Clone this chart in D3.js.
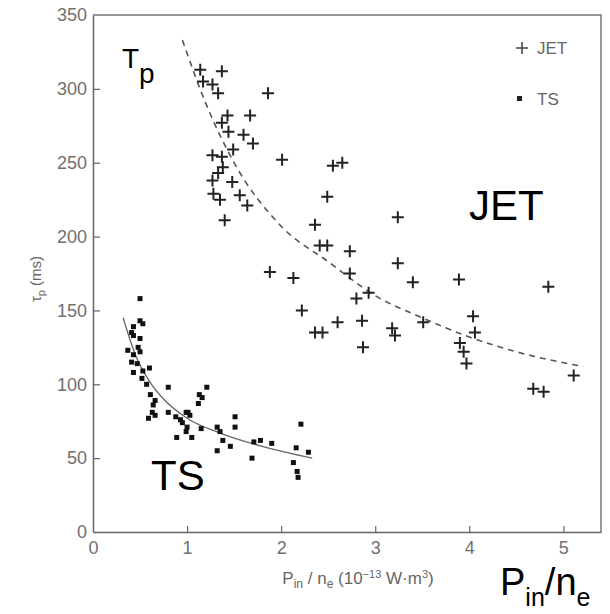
<!DOCTYPE html>
<html lang="en">
	<head>
		<title>Particle confinement time vs input power per density</title>
		<meta charset="utf-8">
		<style>
			body {
				margin: 0;
				background: #fff;
				font-family: "Liberation Sans", Arial, Helvetica, sans-serif;
			}

			.graph .axis .domain {
				fill: none;
				stroke: #666;
				stroke-width: 1.5;
			}

			.graph .axis .tick line {
				stroke: #666;
				stroke-width: 1.2;
			}

			.graph .axis .tick text {
				fill: #707070;
				font-size: 18px;
				font-family: "Liberation Sans", Arial, sans-serif;
			}
		</style>
	</head>

	<body>

		<div class="graph"></div>

		<script src="https://cdn.jsdelivr.net/npm/d3@7"></script>

		<script>

		// JET points: P_in / n_e (1e-13 W m^3), tau_p (ms)
		var jet_x = [1.14, 1.37, 1.17, 1.27, 1.33, 1.86, 1.43, 1.67, 1.37, 1.44, 1.60, 1.70, 1.49, 1.27, 1.37,
			2.01, 2.55, 2.65, 1.38, 1.33, 1.27, 1.48, 1.28, 1.56, 1.35, 1.64, 2.49, 1.40, 2.36, 2.41,
			2.49, 2.73, 1.88, 2.73, 2.13, 3.24, 3.24, 3.40, 3.89, 4.84, 2.93, 2.80, 2.22, 2.60, 2.86,
			3.51, 4.04, 2.36, 2.44, 3.18, 3.21, 4.06, 3.90, 3.94, 3.97, 2.87, 5.11, 4.68, 4.79];
		var jet_y = [313, 312, 305, 303, 297, 297, 282, 282, 277, 271, 269, 263, 259, 255, 254,
			252, 248, 250, 247, 243, 238, 237, 229, 228, 225, 221, 227, 211, 208, 194,
			194, 190, 176, 175, 172, 213, 182, 169, 171, 166, 162, 158, 150, 142, 143,
			142, 146, 135, 135, 138, 133, 135, 128, 122, 114, 125, 106, 97, 95];

		// TS points
		var ts_x = [0.50, 0.50, 0.53, 0.43, 0.41, 0.50, 0.43, 0.48, 0.37, 0.43, 0.50, 0.41, 0.47, 0.60, 0.43,
			0.53, 0.52, 0.57, 0.80, 0.61, 0.66, 0.64, 0.63, 0.80, 0.59, 0.66, 1.01, 1.13, 1.16, 1.12,
			1.21, 0.88, 0.93, 0.99, 1.03, 0.95, 1.00, 0.99, 0.89, 1.05, 1.15, 1.32, 1.35, 1.38, 1.32,
			1.46, 1.51, 1.51, 1.71, 1.78, 1.90, 1.69, 2.16, 2.13, 2.17, 2.18, 2.21, 2.29];
		var ts_y = [158, 143, 141, 139, 135, 131, 133, 125, 123, 120, 122, 115, 114, 111, 108,
			109, 104, 100, 98, 93, 89, 86, 81, 81, 77, 79, 81, 93, 91, 87,
			98, 78, 76, 81, 79, 74, 71, 68, 64, 64, 70, 71, 68, 62, 55,
			58, 78, 71, 61, 62, 60, 50, 57, 47, 41, 37, 73, 54];

		// fitted curves
		var jet_fit_x = [0.95, 1.2, 1.5, 2.0, 2.5, 3.0, 3.5, 4.0, 4.5, 5.21];
		var jet_fit_y = [333, 290, 250, 207, 183, 160, 145, 132, 122, 112];
		var ts_fit_x = [0.32, 0.45, 0.6, 0.75, 1.0, 1.35, 1.8, 2.33];
		var ts_fit_y = [145, 120, 102, 90, 77, 67, 58, 50];

		var x_ticks = [0, 1, 2, 3, 4, 5];
		var y_ticks = [0, 50, 100, 150, 200, 250, 300, 350];

		var width = 610, height = 614;

		var x = d3.scaleLinear()
			.domain([0, 5.4])
			.range([93, 601]);

		var y = d3.scaleLinear()
			.domain([0, 350])
			.range([532, 15]);

		var svg = d3.select('.graph').append('svg')
			.attr('width', width)
			.attr('height', height);

		// frame: top and right edges
		svg.append('path')
			.attr('d', 'M' + x(0) + ',' + y(350) + 'H' + x(5.4) + 'V' + y(0))
			.attr('fill', 'none')
			.attr('stroke', '#777')
			.attr('stroke-width', 1.5);

		// x axis, ticks pointing inwards
		var axis_x = svg.append('g')
			.attr('class', 'axis')
			.attr('transform', 'translate(0,' + y(0) + ')')
			.call(d3.axisBottom(x).tickValues(x_ticks).tickFormat(d3.format('d'))
				.tickSizeInner(-6).tickSizeOuter(0).tickPadding(9));

		// y axis
		var axis_y = svg.append('g')
			.attr('class', 'axis')
			.attr('transform', 'translate(' + x(0) + ',0)')
			.call(d3.axisLeft(y).tickValues(y_ticks).tickFormat(d3.format('d'))
				.tickSizeInner(-7).tickSizeOuter(0).tickPadding(6));

		axis_x.selectAll('.tick').filter(function(d) { return d === 0; }).select('line').remove();
		axis_y.selectAll('.tick').filter(function(d) { return d === 0 || d === 350; }).select('line').remove();

		// axis titles
		var xt = svg.append('text')
			.attr('x', 358)
			.attr('y', 584)
			.attr('text-anchor', 'middle')
			.style('font-size', '17px')
			.style('fill', '#666');
		xt.append('tspan').text('P');
		xt.append('tspan').attr('dy', 4).style('font-size', '12px').text('in');
		xt.append('tspan').attr('dy', -4).text(' / n');
		xt.append('tspan').attr('dy', 4).style('font-size', '12px').text('e');
		xt.append('tspan').attr('dy', -4).text(' (10');
		xt.append('tspan').attr('dy', -6).style('font-size', '11px').text('\u221213');
		xt.append('tspan').attr('dy', 6).text(' W\u00b7m');
		xt.append('tspan').attr('dy', -6).style('font-size', '11px').text('3');
		xt.append('tspan').attr('dy', 6).text(')');

		var yt = svg.append('text')
			.attr('transform', 'translate(41,279) rotate(-90)')
			.attr('text-anchor', 'middle')
			.style('font-size', '15px')
			.style('fill', '#666');
		yt.append('tspan').text('\u03c4');
		yt.append('tspan').attr('dy', 4).style('font-size', '11px').text('p');
		yt.append('tspan').attr('dy', -4).text(' (ms)');

		// fitted curves
		var line = d3.line()
			.curve(d3.curveMonotoneX)
			.x(function(d) { return x(d[0]); })
			.y(function(d) { return y(d[1]); });

		svg.append('path')
			.datum(d3.zip(jet_fit_x, jet_fit_y))
			.attr('d', line)
			.attr('fill', 'none')
			.attr('stroke', '#555')
			.attr('stroke-width', 1.6)
			.attr('stroke-dasharray', '6,5');

		svg.append('path')
			.datum(d3.zip(ts_fit_x, ts_fit_y))
			.attr('d', line)
			.attr('fill', 'none')
			.attr('stroke', '#666')
			.attr('stroke-width', 1.3);

		// JET crosses
		svg.append('g').selectAll('path')
			.data(d3.zip(jet_x, jet_y))
			.join('path')
			.attr('transform', function(d) { return 'translate(' + x(d[0]) + ',' + y(d[1]) + ')'; })
			.attr('d', 'M-6,0H6M0,-6V6')
			.attr('stroke', '#222')
			.attr('stroke-width', 2);

		// TS dots
		svg.append('g').selectAll('rect')
			.data(d3.zip(ts_x, ts_y))
			.join('rect')
			.attr('x', function(d) { return x(d[0]) - 2.5; })
			.attr('y', function(d) { return y(d[1]) - 2.5; })
			.attr('width', 5)
			.attr('height', 5)
			.attr('fill', '#111');

		// legend
		svg.append('path')
			.attr('d', 'M516,48H528M522,42V54')
			.attr('stroke', '#444')
			.attr('stroke-width', 1.6);
		svg.append('text').attr('x', 537).attr('y', 54).text('JET')
			.style('font-size', '17px').style('fill', '#666');
		svg.append('rect').attr('x', 517).attr('y', 96).attr('width', 5).attr('height', 5).attr('fill', '#222');
		svg.append('text').attr('x', 537).attr('y', 105).text('TS')
			.style('font-size', '17px').style('fill', '#666');

		// big annotation labels
		var tp = svg.append('text').attr('x', 122).attr('y', 68)
			.style('font-size', '28px').style('fill', '#000');
		tp.append('tspan').text('T');
		tp.append('tspan').attr('dy', 15).text('p');

		svg.append('text').attr('x', 469).attr('y', 220).text('JET')
			.style('font-size', '42px').style('fill', '#000');

		svg.append('text').attr('x', 151).attr('y', 490).text('TS')
			.style('font-size', '42px').style('fill', '#000');

		var pn = svg.append('text').attr('x', 500).attr('y', 595)
			.style('font-size', '38px').style('fill', '#000');
		pn.append('tspan').text('P');
		pn.append('tspan').attr('dy', 11).style('font-size', '25px').text('in');
		pn.append('tspan').attr('dy', -11).text('/n');
		pn.append('tspan').attr('dy', 11).style('font-size', '25px').text('e');

		</script>

	</body>

</html>
